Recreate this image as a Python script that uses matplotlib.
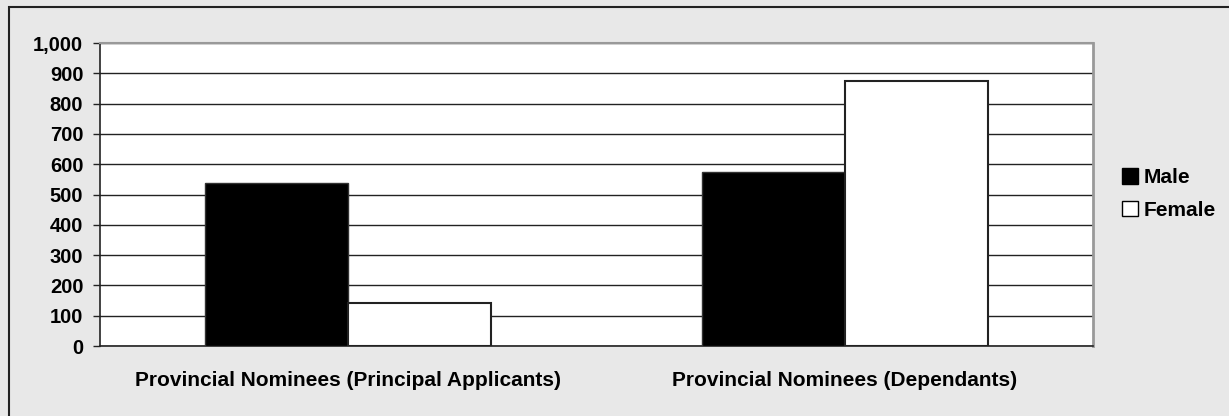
import matplotlib
matplotlib.use("Agg")
import matplotlib.pyplot as plt
from matplotlib.patches import Rectangle
from matplotlib.ticker import FuncFormatter, MultipleLocator
import numpy as np

categories = ["Provincial Nominees (Principal Applicants)", "Provincial Nominees (Dependants)"]
male = [537, 575]
female = [141, 875]
series_names = ["Male", "Female"]

plt.rcParams['font.family'] = ['Liberation Sans', 'DejaVu Sans']
plt.rcParams['font.weight'] = 'bold'

W, H = 1229, 416
fig = plt.figure(figsize=(W / 100, H / 100), dpi=100)
bg = '#E8E8E8'
fig.patch.set_facecolor(bg)

# outer frame
fig.patches.append(Rectangle((9 / W, -0.1), 1.2, 1 - 7 / H + 0.1, transform=fig.transFigure,
                             fill=False, edgecolor='#222222', linewidth=1.5, zorder=0))

left, right, top, bottom = 100, 1093, 43, 346
ax = fig.add_axes([left / W, 1 - bottom / H, (right - left) / W, (bottom - top) / H])
ax.set_facecolor('white')

x = np.arange(len(categories))
bw = 0.288
ax.bar(x - bw / 2, male, bw, color='black', edgecolor='#333333', linewidth=1, zorder=3, label=series_names[0])
ax.bar(x + bw / 2, female, bw, color='white', edgecolor='#222222', linewidth=1.5, zorder=3, label=series_names[1])

ax.set_xlim(-0.5, len(categories) - 0.5)
ax.set_ylim(0, 1000)
ax.yaxis.set_major_locator(MultipleLocator(100))
ax.yaxis.set_major_formatter(FuncFormatter(lambda v, p: f"{int(v):,}"))
ax.grid(axis='y', color='#222222', linewidth=1, zorder=1)
ax.set_axisbelow(True)

ax.set_xticks(x)
ax.set_xticklabels(categories, fontsize=15, fontweight='bold')
ax.tick_params(axis='x', length=0, pad=18)
ax.tick_params(axis='y', length=5, width=1, labelsize=14.5, pad=7, color='#222222')
for lab in ax.get_yticklabels():
    lab.set_fontweight('bold')

for s in ['left', 'bottom']:
    ax.spines[s].set_color('#222222')
    ax.spines[s].set_linewidth(1.2)
ax.spines['top'].set_color('#999999')
ax.spines['top'].set_linewidth(1.5)
ax.spines['right'].set_color('#999999')
ax.spines['right'].set_linewidth(2)

leg = fig.legend(loc='center left', bbox_to_anchor=(1114 / W, 1 - 194 / H), frameon=False,
                 prop={'weight': 'bold', 'size': 15}, handlelength=0.75, handleheight=0.75,
                 handletextpad=0.25, labelspacing=0.65, borderaxespad=0)
for h in leg.legend_handles:
    h.set_edgecolor('black')
    h.set_linewidth(1)

fig.savefig('out.png', dpi=100, facecolor=bg)
